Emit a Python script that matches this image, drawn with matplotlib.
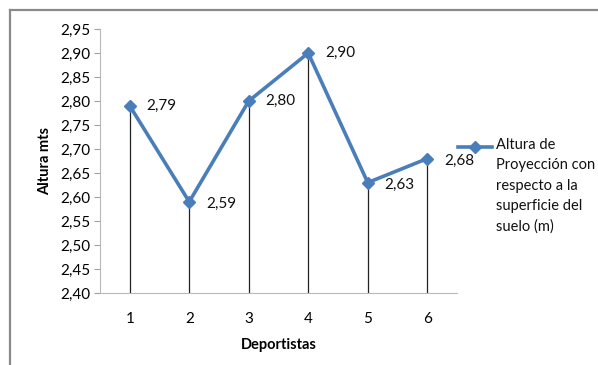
import matplotlib.pyplot as plt
from matplotlib.lines import Line2D
from matplotlib.ticker import FuncFormatter

deportistas = [1, 2, 3, 4, 5, 6]
altura = [2.79, 2.59, 2.80, 2.90, 2.63, 2.68]
serie = 'Altura de\nProyección con\nrespecto a la\nsuperficie del\nsuelo (m)'

plt.rcParams['font.family'] = ['Lato', 'DejaVu Sans']
azul = '#4a7ebb'

fig = plt.figure(figsize=(5.98, 3.65), dpi=100)
ax = fig.add_axes([0.1672, 0.1973, 0.5970, 0.7232])

# lineas de caida hasta el eje
ax.vlines(deportistas, 2.40, altura, color='#222222', lw=0.9, zorder=1)
ax.plot(deportistas, altura, color=azul, lw=2.6, marker='D', ms=6.5,
        mec=azul, mfc=azul, zorder=3)

for x, y in zip(deportistas, altura):
    dy = -0.005 if y < 2.7 else 0
    ax.text(x + 0.28, y + dy, f'{y:.2f}'.replace('.', ','), fontsize=11,
            va='center', ha='left', color='#111111')

ax.set_xlim(0.5, 6.5)
ax.set_ylim(2.40, 2.95)
ax.set_yticks([2.40 + 0.05 * i for i in range(12)])
ax.yaxis.set_major_formatter(FuncFormatter(lambda v, p: f'{v:.2f}'.replace('.', ',')))
ax.set_xticks(deportistas)
ax.tick_params(axis='x', length=0, pad=14, labelsize=11)
ax.tick_params(axis='y', length=4, color='#a0a0a0', labelsize=11, pad=3)

for s in ['top', 'right']:
    ax.spines[s].set_visible(False)
for s in ['left', 'bottom']:
    ax.spines[s].set_color('#b8b8b8')

ax.set_xlabel('Deportistas', fontsize=10.5, fontweight='bold', labelpad=8)
ax.set_ylabel('Altura mts', fontsize=10.5, fontweight='bold', labelpad=6)

# leyenda a la derecha
fig.add_artist(Line2D([458 / 598, 492 / 598], [1 - 147 / 365] * 2, color=azul,
                      lw=2.6))
fig.add_artist(Line2D([475 / 598], [1 - 147 / 365], color=azul, marker='D',
                      ms=6, mec=azul, mfc=azul, ls='none'))
fig.text(496 / 598, 1 - 138 / 365, serie, fontsize=10.5, va='top', ha='left',
         linespacing=1.58, color='#111111')

# marco
gris = '#8a8a8a'
fig.add_artist(Line2D([10 / 598, 1], [1 - 9.5 / 365] * 2, color=gris, lw=1.6))
fig.add_artist(Line2D([10 / 598] * 2, [0, 1 - 9.5 / 365], color=gris, lw=1.6))

fig.savefig('out.png', dpi=100)
